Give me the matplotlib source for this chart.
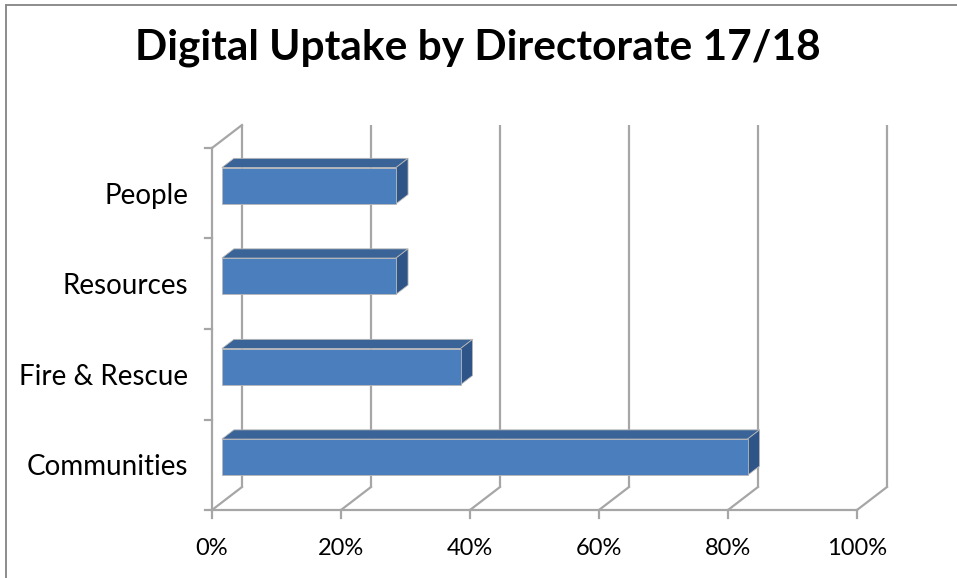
import matplotlib
matplotlib.use("Agg")
import matplotlib.pyplot as plt
from matplotlib.patches import Polygon
from matplotlib.lines import Line2D

# data
categories = ["Communities", "Fire & Rescue", "Resources", "People"]
uptake = [81.5, 37, 27, 27]
xticks = [0, 20, 40, 60, 80, 100]
title = "Digital Uptake by Directorate 17/18"

plt.rcParams['font.family'] = ['Lato', 'DejaVu Sans']

W, H = 957, 578
fig = plt.figure(figsize=(W / 100, H / 100), dpi=100)
fig.patch.set_facecolor('white')

# front plane of the plot in pixels: x 212..857, y 148..510 (from top)
ax = fig.add_axes([212 / W, (H - 510) / H, 645 / W, 362 / H])
ax.set_xlim(0, 100)
ax.set_ylim(0, len(categories))
ax.axis('off')

# oblique depth offset in data units (30 px right, 23 px up)
ddx = 30 / 6.45
ddy = 23 / 90.5
grid_c = '#a6a6a6'
lw = 1.6

# back wall gridlines
for t in xticks:
    ax.plot([t + ddx, t + ddx], [ddy, len(categories) + ddy], color=grid_c, lw=lw,
            clip_on=False, zorder=1, solid_capstyle='butt')
# floor diagonals and front floor line
for t in xticks:
    ax.plot([t, t + ddx], [0, ddy], color=grid_c, lw=lw, clip_on=False, zorder=1)
    ax.plot([t, t], [0, -0.085], color=grid_c, lw=lw, clip_on=False, zorder=1)
    ax.text(t, -0.43, f"{t}%", ha='center', va='center', fontsize=17, color='black')
ax.plot([0, 100], [0, 0], color=grid_c, lw=lw, clip_on=False, zorder=1)

# left wall
ax.plot([0, 0], [0, len(categories)], color=grid_c, lw=lw, clip_on=False, zorder=1)
ax.plot([0, ddx], [len(categories), len(categories) + ddy], color=grid_c, lw=lw, clip_on=False, zorder=1)
for k in range(len(categories) + 1):
    ax.plot([-1.1, 0], [k, k], color=grid_c, lw=lw, clip_on=False, zorder=1)

# 3d bars
f0, f1 = 0.33, 0.73
bh = 0.4
front_c, top_c, side_c = '#4A7EBD', '#3A6398', '#2F5488'
for i, (cat, v) in enumerate(zip(categories, uptake)):
    y0 = i + 0.5 - bh / 2
    y1 = i + 0.5 + bh / 2
    ox0, oy0 = ddx * f0, ddy * f0
    ox1, oy1 = ddx * f1, ddy * f1
    front = [(ox0, y0 + oy0), (v + ox0, y0 + oy0), (v + ox0, y1 + oy0), (ox0, y1 + oy0)]
    top = [(ox0, y1 + oy0), (v + ox0, y1 + oy0), (v + ox1, y1 + oy1), (ox1, y1 + oy1)]
    side = [(v + ox0, y0 + oy0), (v + ox1, y0 + oy1), (v + ox1, y1 + oy1), (v + ox0, y1 + oy0)]
    for pts, c in [(top, top_c), (side, side_c), (front, front_c)]:
        ax.add_patch(Polygon(pts, closed=True, facecolor=c, edgecolor='#b8b8b8',
                             lw=0.6, clip_on=False, zorder=3))
    ax.text(-3.7, i + 0.47, cat, ha='right', va='center', fontsize=20, color='black')

fig.text(478 / W, 1 - 48 / H, title, ha='center', va='center', fontsize=30.5,
         fontweight='bold', color='black')

# outer chart border
fig.add_artist(Line2D([6 / W, 6 / W], [0, 1 - 5 / H], color='#8c8c8c', lw=1.4))
fig.add_artist(Line2D([6 / W, 1], [1 - 5 / H, 1 - 5 / H], color='#8c8c8c', lw=1.4))

fig.savefig('out.png', dpi=100, facecolor='white')
